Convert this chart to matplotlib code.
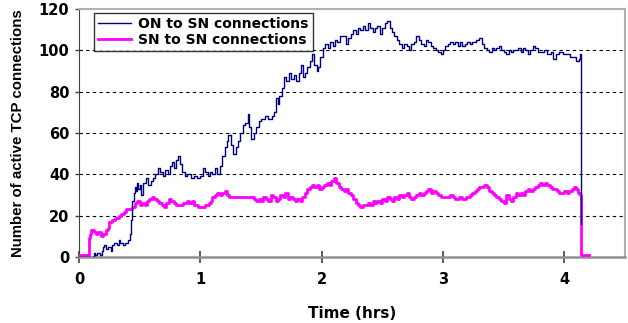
import matplotlib
matplotlib.use("Agg")
import matplotlib.pyplot as plt

# ON -> SN connection count over the run (hours, active connections)
on_sn_t = [0.00, 0.11, 0.12, 0.13, 0.15, 0.17, 0.19, 0.20, 0.21, 0.22, 0.24, 0.26, 0.27, 0.29, 0.31, 0.33,
           0.34, 0.36, 0.38, 0.40, 0.42, 0.43, 0.44, 0.45, 0.46, 0.47, 0.48, 0.49, 0.50, 0.51, 0.53, 0.55,
           0.57, 0.59, 0.61, 0.63, 0.65, 0.67, 0.69, 0.71, 0.73, 0.75, 0.77, 0.78, 0.80, 0.82, 0.83, 0.85,
           0.87, 0.89, 0.92, 0.95, 0.97, 1.00, 1.02, 1.04, 1.06, 1.08, 1.10, 1.12, 1.14, 1.16, 1.18, 1.20,
           1.22, 1.23, 1.25, 1.27, 1.29, 1.31, 1.33, 1.35, 1.37, 1.39, 1.40, 1.42, 1.44, 1.46, 1.48, 1.50,
           1.53, 1.56, 1.59, 1.61, 1.62, 1.64, 1.65, 1.67, 1.69, 1.71, 1.73, 1.75, 1.77, 1.79, 1.81, 1.83,
           1.85, 1.86, 1.88, 1.90, 1.92, 1.94, 1.96, 1.97, 1.99, 2.01, 2.03, 2.05, 2.07, 2.09, 2.11, 2.13,
           2.15, 2.18, 2.20, 2.22, 2.24, 2.26, 2.28, 2.30, 2.32, 2.34, 2.36, 2.38, 2.40, 2.42, 2.44, 2.46,
           2.48, 2.50, 2.52, 2.54, 2.56, 2.58, 2.60, 2.62, 2.64, 2.66, 2.68, 2.70, 2.72, 2.74, 2.76, 2.78,
           2.80, 2.82, 2.84, 2.86, 2.88, 2.90, 2.92, 2.94, 2.96, 2.98, 3.00, 3.02, 3.04, 3.06, 3.08, 3.10,
           3.12, 3.14, 3.16, 3.18, 3.20, 3.22, 3.24, 3.27, 3.30, 3.32, 3.34, 3.36, 3.38, 3.40, 3.42, 3.44,
           3.46, 3.48, 3.50, 3.52, 3.54, 3.56, 3.58, 3.60, 3.62, 3.64, 3.66, 3.68, 3.70, 3.72, 3.74, 3.76,
           3.78, 3.80, 3.83, 3.86, 3.89, 3.91, 3.93, 3.96, 3.99, 4.02, 4.05, 4.08, 4.10, 4.12, 4.13, 4.14]
on_sn_n = [0, 0, 2, 1, 2, 1, 3, 5, 6, 4, 5, 3, 6, 7, 6, 8,
           7, 6, 7, 8, 11, 18, 27, 31, 34, 32, 36, 33, 35, 30, 36, 38,
           35, 37, 38, 40, 43, 41, 39, 42, 40, 44, 46, 43, 47, 49, 45, 41,
           39, 40, 38, 39, 38, 39, 43, 41, 39, 41, 40, 43, 40, 44, 49, 53,
           56, 59, 54, 50, 53, 56, 60, 64, 65, 69, 63, 57, 60, 63, 66, 67,
           68, 67, 68, 70, 77, 74, 78, 82, 87, 85, 89, 86, 88, 85, 89, 93,
           87, 89, 92, 95, 98, 93, 90, 92, 97, 101, 103, 101, 104, 102, 105, 104,
           107, 107, 103, 106, 108, 110, 108, 111, 110, 112, 110, 113, 111, 109, 111, 112,
           108, 111, 113, 114, 111, 109, 107, 105, 103, 101, 103, 102, 100, 103, 104, 107,
           105, 103, 102, 105, 104, 102, 101, 100, 99, 98, 100, 102, 103, 104, 103, 104,
           102, 104, 102, 103, 104, 103, 104, 105, 106, 103, 101, 100, 99, 101, 100, 101,
           102, 100, 99, 98, 100, 99, 100, 100, 101, 99, 101, 100, 98, 100, 102, 101,
           99, 99, 100, 98, 99, 96, 98, 99, 98, 98, 97, 97, 95, 96, 98, 16]

# SN -> SN connection count
sn_sn_t = [0.00, 0.075, 0.08, 0.09, 0.10, 0.12, 0.14, 0.16, 0.18, 0.20, 0.22, 0.24, 0.25, 0.27, 0.30, 0.33,
           0.35, 0.37, 0.39, 0.42, 0.44, 0.46, 0.48, 0.50, 0.52, 0.54, 0.56, 0.58, 0.60, 0.62, 0.64, 0.66,
           0.68, 0.70, 0.72, 0.74, 0.76, 0.78, 0.80, 0.83, 0.86, 0.89, 0.91, 0.93, 0.95, 0.98, 1.01, 1.04,
           1.07, 1.09, 1.10, 1.12, 1.14, 1.16, 1.18, 1.20, 1.22, 1.24, 1.27, 1.30, 1.33, 1.36, 1.39, 1.42,
           1.44, 1.46, 1.48, 1.50, 1.52, 1.54, 1.56, 1.58, 1.60, 1.62, 1.64, 1.66, 1.68, 1.70, 1.72, 1.74,
           1.76, 1.78, 1.80, 1.82, 1.84, 1.86, 1.88, 1.90, 1.92, 1.94, 1.96, 1.98, 2.00, 2.02, 2.04, 2.06,
           2.08, 2.10, 2.12, 2.14, 2.16, 2.18, 2.20, 2.22, 2.24, 2.26, 2.28, 2.30, 2.32, 2.34, 2.36, 2.38,
           2.40, 2.42, 2.44, 2.46, 2.48, 2.50, 2.52, 2.54, 2.56, 2.58, 2.60, 2.62, 2.64, 2.66, 2.68, 2.70,
           2.72, 2.74, 2.76, 2.78, 2.80, 2.82, 2.84, 2.86, 2.88, 2.90, 2.92, 2.94, 2.96, 2.98, 3.00, 3.03,
           3.06, 3.08, 3.10, 3.13, 3.16, 3.19, 3.22, 3.24, 3.26, 3.28, 3.30, 3.32, 3.34, 3.36, 3.38, 3.40,
           3.42, 3.44, 3.46, 3.48, 3.50, 3.52, 3.54, 3.56, 3.58, 3.60, 3.62, 3.64, 3.66, 3.68, 3.70, 3.72,
           3.74, 3.76, 3.78, 3.80, 3.82, 3.84, 3.86, 3.88, 3.90, 3.92, 3.94, 3.96, 3.98, 4.00, 4.02, 4.04,
           4.06, 4.08, 4.10, 4.11, 4.13, 4.14, 4.20]
sn_sn_n = [1, 1, 9, 11, 13, 12, 11, 12, 10, 11, 13, 14, 17, 18, 19, 20,
           21, 22, 23, 23, 24, 26, 27, 25, 26, 25, 27, 28, 29, 28, 27, 26,
           25, 24, 26, 28, 27, 26, 25, 25, 26, 27, 26, 27, 25, 24, 24, 25,
           26, 27, 29, 30, 31, 30, 31, 32, 30, 29, 29, 29, 29, 29, 29, 29,
           28, 27, 28, 27, 29, 28, 27, 30, 29, 27, 28, 30, 29, 31, 28, 29,
           28, 27, 28, 27, 29, 31, 33, 34, 35, 34, 35, 33, 34, 35, 36, 35,
           37, 38, 36, 34, 33, 32, 33, 31, 30, 28, 26, 25, 24, 25, 25, 26,
           25, 27, 26, 27, 26, 28, 27, 29, 28, 27, 29, 28, 30, 29, 30, 31,
           29, 28, 29, 30, 31, 30, 31, 32, 33, 31, 32, 31, 30, 29, 29, 29,
           30, 29, 28, 29, 28, 29, 30, 31, 32, 33, 34, 34, 35, 34, 32, 31,
           30, 29, 28, 27, 26, 30, 28, 27, 29, 31, 30, 31, 30, 32, 33, 32,
           33, 34, 35, 36, 35, 36, 35, 34, 33, 33, 32, 31, 31, 32, 31, 32,
           33, 34, 33, 31, 30, 1, 1]

x_ticks = [0, 1, 2, 3, 4]
y_ticks = [0, 20, 40, 60, 80, 100, 120]

fig = plt.figure(figsize=(6.28, 3.23), dpi=100)
ax = fig.add_axes([0.1258, 0.2043, 0.8694, 0.7678])

ax.step(sn_sn_t, sn_sn_n, where="post", color="#ff00ff", lw=2.0, label="SN to SN connections", zorder=3)
ax.step(on_sn_t, on_sn_n, where="post", color="#000080", lw=1.0, label="ON to SN connections", zorder=4)

ax.set_xlim(0, 4.5)
ax.set_ylim(0, 120)
ax.set_xticks(x_ticks)
ax.set_yticks(y_ticks)
for y in y_ticks[1:-1]:
    ax.axhline(y, color="black", lw=0.8, ls=(0, (3, 3)), zorder=1)

for s in ("top", "right"):
    ax.spines[s].set_color("#b0b0b0")
    ax.spines[s].set_linewidth(1.5)
ax.spines["left"].set_color("#404040")
ax.spines["bottom"].set_color("#909090")
ax.spines["bottom"].set_linewidth(1.8)

ax.tick_params(axis="x", direction="inout", length=9, width=1.2, color="#404040", pad=6)
ax.tick_params(axis="y", direction="out", length=3, width=1, color="#404040", pad=4)
for lab in ax.get_xticklabels() + ax.get_yticklabels():
    lab.set_fontweight("bold")
    lab.set_fontsize(10.5)

ax.set_xlabel("Time (hrs)", fontsize=11, fontweight="bold", labelpad=14)
ax.set_ylabel("Number of active TCP connections", fontsize=10.8, fontweight="bold",
              family="Liberation Sans")
ax.yaxis.set_label_coords(-0.098, 0.5)

h, l = ax.get_legend_handles_labels()
leg = ax.legend(h[::-1], l[::-1], loc="upper left", bbox_to_anchor=(0.027, 0.985),
                prop={"weight": "bold", "size": 10}, frameon=True, fancybox=False,
                borderpad=0.3, labelspacing=0.15, handlelength=2.4, handletextpad=0.5,
                borderaxespad=0)
leg.get_frame().set_edgecolor("black")
leg.get_frame().set_linewidth(1.0)

fig.savefig("out.png", dpi=100)
